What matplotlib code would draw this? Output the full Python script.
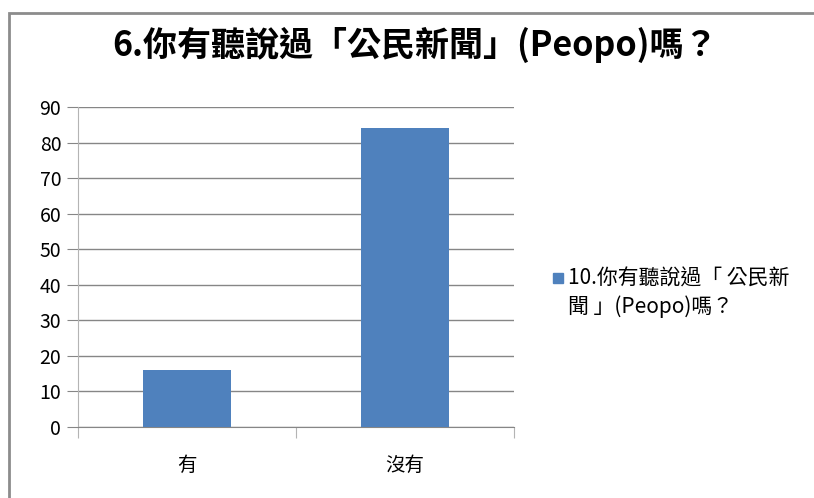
import matplotlib
matplotlib.use("Agg")
import matplotlib.pyplot as plt
from matplotlib.patches import Rectangle

plt.rcParams["font.family"] = ["Noto Sans CJK TC", "DejaVu Sans"]
plt.rcParams["axes.unicode_minus"] = False

# 資料
categories = ["有", "沒有"]
counts = [16, 84]
series_name = "10.你有聽說過「 公民新\n聞 」(Peopo)嗎？"
title = "6.你有聽說過「公民新聞」(Peopo)嗎？"
yticks = list(range(0, 100, 10))
bar_color = "#4f81bd"

W, H = 814, 498
fig = plt.figure(figsize=(W / 100, H / 100), dpi=100)
fig.patch.set_facecolor("white")

# 外框 (右側與下方延伸出畫面)
fig.patches.append(Rectangle((8.5 / W, -0.1), 1.2, (H - 13.5) / H + 0.1,
                             transform=fig.transFigure, fill=False,
                             edgecolor="#8c8c8c", linewidth=2))

ax = fig.add_axes([78 / W, (H - 427) / H, (514 - 78) / W, (427 - 107) / H])
x = range(len(categories))
ax.bar(x, counts, width=0.4, color=bar_color, zorder=3)
ax.set_xlim(-0.5, len(categories) - 0.5)
ax.set_ylim(0, 90)
ax.set_yticks(yticks)
ax.yaxis.grid(True, color="#868686", linewidth=1, zorder=0)
for s in ("top", "right"):
    ax.spines[s].set_visible(False)
ax.spines["left"].set_color("#b4b4b4")
ax.spines["bottom"].set_color("#868686")
ax.tick_params(axis="y", length=8, color="#868686", labelsize=14, pad=4)
ax.set_xticks([-0.5, 0.5, 1.5])
ax.set_xticklabels([])
ax.tick_params(axis="x", length=8, color="#b4b4b4", direction="out")
ax.set_xticks(list(x), minor=True)
ax.set_xticklabels(categories, minor=True, fontsize=14)
ax.tick_params(axis="x", which="minor", length=0, pad=20)

fig.text(415 / W, 1 - 45 / H, title, ha="center", va="center",
         fontsize=24.5, fontweight="bold")

# 圖例 (方塊對齊第一行)
fig.patches.append(Rectangle((553 / W, 1 - 283 / H), 10 / W, 10 / H,
                             transform=fig.transFigure, color=bar_color))
fig.text(568 / W, 1 - 268 / H, series_name, ha="left", va="top",
         fontsize=15, linespacing=1.3)

fig.savefig("out.png", dpi=100)
